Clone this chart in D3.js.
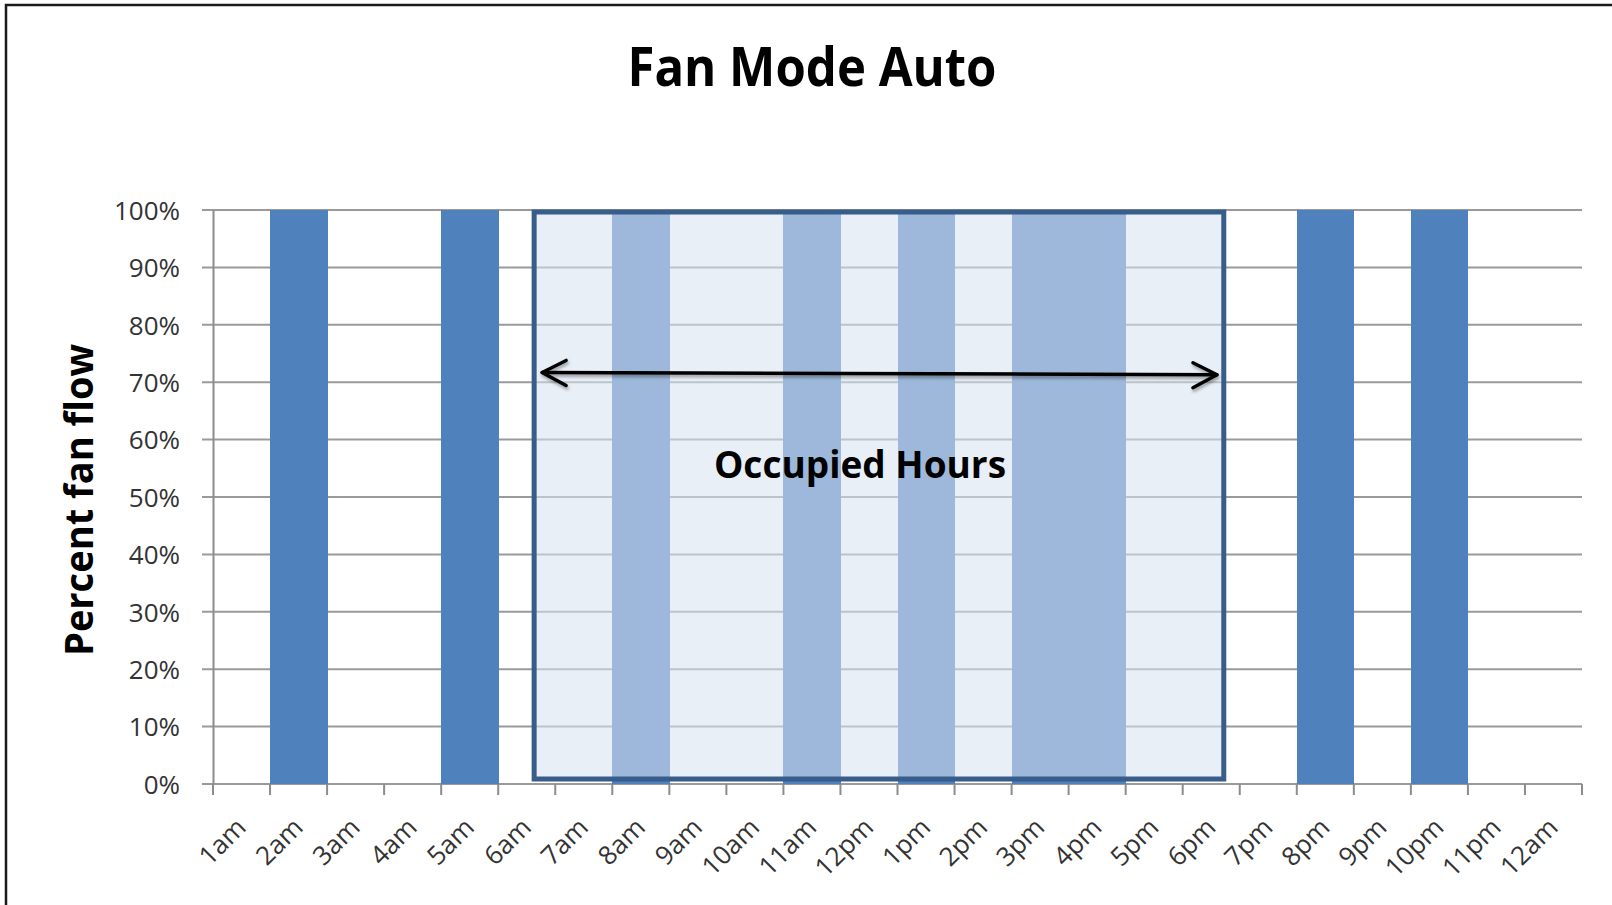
<!DOCTYPE html>
<html>
<head>
<meta charset="utf-8">
<script src="https://cdn.jsdelivr.net/npm/d3@7"></script>
<style>
  body { margin: 0; background: #fff; }
  text { font-family: "Open Sans", "Noto Sans", sans-serif; }
</style>
</head>
<body>
<script>
// hours of the day and fan state (1 = fan running at 100%)
const hours = ['1am', '2am', '3am', '4am', '5am', '6am', '7am', '8am', '9am', '10am', '11am', '12pm',
               '1pm', '2pm', '3pm', '4pm', '5pm', '6pm', '7pm', '8pm', '9pm', '10pm', '11pm', '12am'];
const fanFlow = [0, 1, 0, 0, 1, 0, 0, 1, 0, 0, 1, 0,
                 1, 0, 1, 1, 0, 0, 0, 1, 0, 1, 0, 0];
const yTicks = [0, 0.1, 0.2, 0.3, 0.4, 0.5, 0.6, 0.7, 0.8, 0.9, 1];

// occupied period (hour label + fraction of that hour)
const occupiedFrom = ['6am', 0.63];
const occupiedTo = ['6pm', 0.72];

const width = 1612, height = 905;
const margin = { top: 210, right: 30, bottom: 121, left: 213 };

const svg = d3.select('body').append('svg')
    .attr('width', width)
    .attr('height', height);

// drop shadow for the arrow
const defs = svg.append('defs');
const shadow = defs.append('filter').attr('id', 'shadow')
    .attr('x', '-5%').attr('y', '-50%').attr('width', '110%').attr('height', '200%');
shadow.append('feDropShadow')
    .attr('dx', 1).attr('dy', 2.5).attr('stdDeviation', 1.5)
    .attr('flood-color', '#000').attr('flood-opacity', 0.35);

const x = d3.scaleBand()
    .domain(hours)
    .range([margin.left, width - margin.right])
    .padding(0);

const y = d3.scaleLinear()
    .domain([0, 1])
    .range([height - margin.bottom, margin.top]);

const xAt = (h, f) => x(h) + f * x.bandwidth();

// outer frame
svg.append('rect')
    .attr('x', 6).attr('y', 5)
    .attr('width', 1700).attr('height', 1000)
    .attr('fill', 'none')
    .attr('stroke', '#1a1a1a')
    .attr('stroke-width', 2.5);

// title
svg.append('text')
    .attr('x', 812).attr('y', 86)
    .attr('text-anchor', 'middle')
    .attr('font-size', 54)
    .attr('font-weight', 'bold')
    .attr('textLength', 369)
    .attr('lengthAdjust', 'spacingAndGlyphs')
    .text('Fan Mode Auto');

// gridlines (with the little outward ticks on the left)
svg.append('g')
    .selectAll('line')
    .data(yTicks)
    .join('line')
    .attr('x1', margin.left - 11)
    .attr('x2', width - margin.right)
    .attr('y1', d => y(d))
    .attr('y2', d => y(d))
    .attr('stroke', '#9a9a9a')
    .attr('stroke-width', 2);

// bars
svg.append('g')
    .attr('shape-rendering', 'crispEdges')
    .selectAll('rect')
    .data(hours.map((h, i) => ({ h, v: fanFlow[i] })).filter(d => d.v > 0))
    .join('rect')
    .attr('x', d => x(d.h))
    .attr('width', x.bandwidth() + 0.5)
    .attr('y', d => y(d.v))
    .attr('height', d => y(0) - y(d.v))
    .attr('fill', '#4f81bd');

// occupied hours box
const boxX1 = xAt(occupiedFrom[0], occupiedFrom[1]);
const boxX2 = xAt(occupiedTo[0], occupiedTo[1]);
svg.append('rect')
    .attr('x', boxX1)
    .attr('y', y(0.9965))
    .attr('width', boxX2 - boxX1)
    .attr('height', y(0.0087) - y(0.9965))
    .attr('fill', 'rgb(216,227,241)')
    .attr('fill-opacity', 0.57)
    .attr('stroke', '#385d8a')
    .attr('stroke-width', 5);

// y axis
const yAxis = svg.append('g')
    .attr('transform', `translate(${margin.left},0)`)
    .call(d3.axisLeft(y)
        .tickValues(yTicks)
        .tickFormat(d3.format('.0%'))
        .tickSize(0)
        .tickPadding(33));
yAxis.select('.domain').attr('stroke', '#8c8c8c').attr('stroke-width', 2);
yAxis.selectAll('text')
    .attr('font-size', 26)
    .attr('fill', '#333')
    .attr('dy', '0.36em');

// x axis ticks at the hour boundaries
const bounds = hours.map(h => x(h)).concat([x.range()[1]]);
svg.append('g')
    .selectAll('line')
    .data(bounds)
    .join('line')
    .attr('x1', d => d).attr('x2', d => d)
    .attr('y1', y(0)).attr('y2', y(0) + 11)
    .attr('stroke', '#8c8c8c')
    .attr('stroke-width', 2);

const xAxis = svg.append('g')
    .attr('transform', `translate(0,${y(0)})`)
    .call(d3.axisBottom(x).tickSize(0).tickSizeOuter(0));
xAxis.select('.domain').remove();
xAxis.selectAll('text')
    .attr('x', 0).attr('y', 0).attr('dy', 0)
    .attr('text-anchor', 'end')
    .attr('font-size', 26)
    .attr('fill', '#333')
    .attr('transform', 'translate(6,45) rotate(-45)');

// y axis title
svg.append('text')
    .attr('transform', 'translate(93,500) rotate(-90)')
    .attr('text-anchor', 'middle')
    .attr('font-size', 40)
    .attr('font-weight', 'bold')
    .attr('textLength', 312)
    .attr('lengthAdjust', 'spacingAndGlyphs')
    .text('Percent fan flow');

// double headed arrow across occupied hours
const ax1 = xAt('6am', 0.77), ay1 = y(0.717);
const ax2 = xAt('6pm', 0.60), ay2 = y(0.713);
const arrow = svg.append('g')
    .attr('fill', 'none')
    .attr('stroke', '#000')
    .attr('stroke-width', 3.5)
    .attr('stroke-linecap', 'round')
    .attr('stroke-linejoin', 'round')
    .attr('filter', 'url(#shadow)');
arrow.append('line')
    .attr('x1', ax1).attr('y1', ay1)
    .attr('x2', ax2).attr('y2', ay2);
arrow.append('polyline')
    .attr('points', `${ax1 + 24},${ay1 - 12} ${ax1},${ay1} ${ax1 + 24},${ay1 + 13}`);
arrow.append('polyline')
    .attr('points', `${ax2 - 24},${ay2 - 12} ${ax2},${ay2} ${ax2 - 24},${ay2 + 13}`);

// annotation
svg.append('text')
    .attr('x', 860).attr('y', 478)
    .attr('text-anchor', 'middle')
    .attr('font-size', 37)
    .attr('font-weight', 'bold')
    .attr('fill', '#000')
    .text('Occupied Hours');
</script>
</body>
</html>
